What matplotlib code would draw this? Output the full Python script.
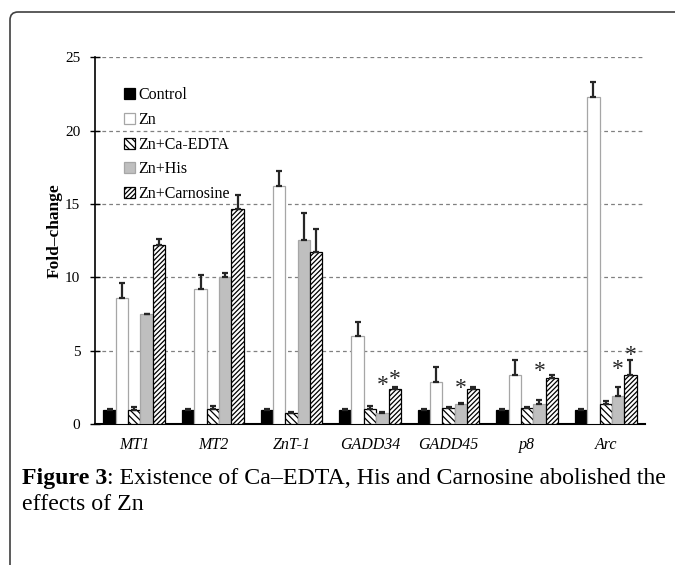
import numpy as np
import matplotlib
matplotlib.use('Agg')
import matplotlib.pyplot as plt
from matplotlib.patches import FancyBboxPatch
from matplotlib.transforms import IdentityTransform

plt.rcParams['font.family'] = ['Liberation Serif', 'DejaVu Serif']
plt.rcParams['hatch.linewidth'] = 0.9

genes = ['MT1', 'MT2', 'ZnT-1', 'GADD34', 'GADD45', 'p8', 'Arc']
series = ['Control', 'Zn', 'Zn+Ca-EDTA', 'Zn+His', 'Zn+Carnosine']

control = [1.0, 1.0, 1.0, 1.0, 1.0, 1.0, 1.0]
control_err = [0.03, 0.03, 0.03, 0.03, 0.03, 0.03, 0.03]
zn = [8.6, 9.2, 16.2, 6.0, 2.9, 3.4, 22.3]
zn_err = [1.0, 1.0, 1.05, 1.0, 1.0, 1.0, 1.0]
ca_edta = [1.0, 1.07, 0.8, 1.07, 1.1, 1.1, 1.37]
ca_edta_err = [0.17, 0.19, 0.05, 0.21, 0.1, 0.1, 0.23]
his = [7.5, 10.05, 12.55, 0.8, 1.39, 1.37, 1.94]
his_err = [0.05, 0.25, 1.85, 0.05, 0.09, 0.3, 0.63]
carnosine = [12.2, 14.65, 11.76, 2.39, 2.39, 3.18, 3.37]
carnosine_err = [0.4, 0.93, 1.52, 0.18, 0.14, 0.19, 1.02]

# asterisks: gene index, series index, height
star_gene = [3, 3, 4, 5, 6, 6]
star_series = [3, 4, 3, 3, 3, 4]
star_y = [3.1, 3.5, 2.9, 4.0, 4.2, 5.1]

values = [control, zn, ca_edta, his, carnosine]
errors = [control_err, zn_err, ca_edta_err, his_err, carnosine_err]
styles = [
    dict(facecolor='black', edgecolor='black', hatch=None),
    dict(facecolor='white', edgecolor='#a6a6a6', hatch=None),
    dict(facecolor='white', edgecolor='black', hatch='\\\\\\\\\\'),
    dict(facecolor='#bfbfbf', edgecolor='#a6a6a6', hatch=None),
    dict(facecolor='white', edgecolor='black', hatch='///////'),
]

fig = plt.figure(figsize=(6.75, 5.65), dpi=100)
ax = fig.add_axes([0.1407, 0.2487, 0.8149, 0.6504])

x = np.arange(len(genes))
w = 0.157
for i, (vals, errs, st) in enumerate(zip(values, errors, styles)):
    pos = x + (i - 2) * w
    ax.bar(pos, vals, width=w, linewidth=0.9, label=series[i], zorder=3, **st)
    ax.errorbar(pos, vals, yerr=[np.zeros(len(errs)), errs], fmt='none',
                ecolor='#262626', elinewidth=1.6, capsize=2, capthick=1.6, zorder=4)

for g, s, y in zip(star_gene, star_series, star_y):
    ax.annotate('*', (x[g] + (s - 2) * w, y), xytext=(0, -8.5), textcoords='offset points',
                ha='center', va='baseline', fontsize=17, color='#262626', zorder=5)

ax.set_xlim(-0.5, len(genes) - 0.5)
ax.set_ylim(0, 25)
ax.set_yticks([0, 5, 10, 15, 20, 25])
ax.set_xticks(x)
ax.set_xticklabels(genes, fontstyle='italic', fontsize=11.5)
ax.tick_params(axis='x', length=0, pad=9)
ax.tick_params(axis='y', direction='inout', length=7, width=1, labelsize=11, pad=7)
for yv in [5, 10, 15, 20, 25]:
    ax.axhline(yv, color='#808080', linewidth=0.9, dashes=(3, 2.5), zorder=1)
for side in ['top', 'right']:
    ax.spines[side].set_visible(False)
ax.spines['left'].set_linewidth(1.2)
ax.spines['bottom'].set_linewidth(1.5)

ax.set_ylabel('Fold\u2013change', fontsize=12.5, fontweight='bold')
ax.yaxis.set_label_coords(-0.058, 0.528)

leg = ax.legend(loc='upper left', bbox_to_anchor=(0.053, 0.918), frameon=False,
                fontsize=11.5, handlelength=0.7, handleheight=0.7, handletextpad=0.2,
                labelspacing=0.55, borderpad=0, borderaxespad=0)

# border of the figure box
fig.patches.append(FancyBboxPatch((10, -60), 720, 613, boxstyle='round,pad=0,rounding_size=8',
                                  transform=IdentityTransform(), facecolor='none',
                                  edgecolor='#404040', linewidth=1.2, figure=fig))

# caption
fig.canvas.draw()
r = fig.canvas.get_renderer()
t1 = fig.text(22 / 675, 1 - 484 / 565, 'Figure 3', fontsize=17.2, fontweight='bold', va='baseline')
bb = t1.get_window_extent(r)
fig.text(bb.x1 / 675, 1 - 484 / 565, ': Existence of Ca\u2013EDTA, His and Carnosine abolished the',
         fontsize=17.2, va='baseline')
fig.text(22 / 675, 1 - 510 / 565, 'effects of Zn', fontsize=17.2, va='baseline')

fig.savefig('out.png', dpi=100)
